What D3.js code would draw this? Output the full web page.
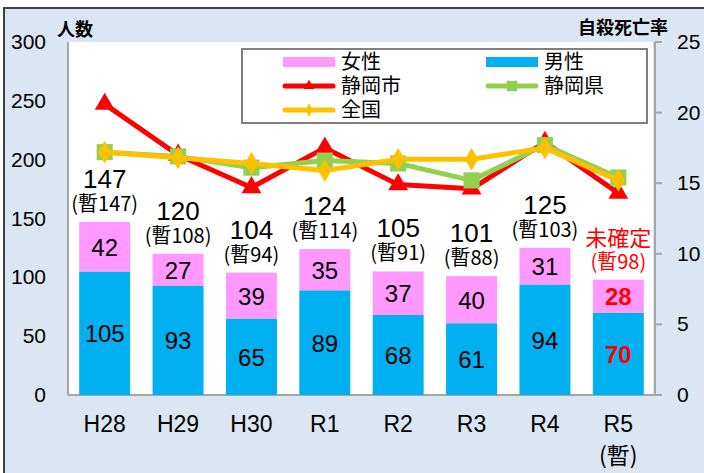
<!doctype html>
<html lang="ja">
<head>
<meta charset="utf-8">
<title>自殺者数と自殺死亡率</title>
<style>
  body { margin: 0; background: #ffffff; }
  text { font-family: "Liberation Sans", Arial, "Noto Sans CJK JP", sans-serif; }
  .jp { font-family: "Noto Sans CJK JP", sans-serif; }
</style>
</head>
<body>
<script src="https://d3js.org/d3.v7.min.js"></script>
<script>
// data
var years = ["H28", "H29", "H30", "R1", "R2", "R3", "R4", "R5"];
var male = [105, 93, 65, 89, 68, 61, 94, 70];
var female = [42, 27, 39, 35, 37, 40, 31, 28];
var totals = [147, 120, 104, 124, 105, 101, 125, 98];
var provisional = [147, 108, 94, 114, 91, 88, 103, 98];
var cityRate = [20.6, 17.0, 14.7, 17.5, 14.9, 14.6, 17.9, 14.3];
var prefRate = [17.2, 16.9, 16.1, 16.6, 16.4, 15.2, 17.7, 15.4];
var nationRate = [17.2, 16.8, 16.4, 15.9, 16.7, 16.7, 17.5, 15.2];
var leftTicks = [0, 50, 100, 150, 200, 250, 300];
var rightTicks = [0, 5, 10, 15, 20, 25];

var w = 704, h = 473;
var svg = d3.select("body").append("svg")
  .attr("width", w).attr("height", h);

// outer frame
svg.append("rect")
  .attr("x", 4).attr("y", 8).attr("width", w + 10).attr("height", h + 10)
  .attr("fill", "#dce6f2").attr("stroke", "#404040").attr("stroke-width", 2);

var plotL = 68, plotR = 655, plotT = 42, plotB = 395;

svg.append("rect")
  .attr("x", plotL).attr("y", plotT).attr("width", plotR - plotL - 2).attr("height", plotB - plotT)
  .attr("fill", "#ffffff");

var x = d3.scaleBand().domain(years).range([plotL, plotR])
  .paddingInner(0.305).paddingOuter(0.1525);
var y = d3.scaleLinear().domain([0, 300]).range([plotB, plotT]);
var y2 = d3.scaleLinear().domain([0, 25]).range([plotB, plotT]);

// axes
var axisColor = "#a6a6a6";
svg.append("line").attr("x1", plotL).attr("x2", plotL).attr("y1", plotT).attr("y2", plotB)
  .attr("stroke", axisColor).attr("stroke-width", 2);
svg.append("line").attr("x1", plotL).attr("x2", plotR + 7).attr("y1", plotB).attr("y2", plotB)
  .attr("stroke", axisColor).attr("stroke-width", 2);
svg.append("line").attr("x1", plotR).attr("x2", plotR).attr("y1", plotT).attr("y2", plotB)
  .attr("stroke", axisColor).attr("stroke-width", 2);

svg.selectAll(".rtick").data(rightTicks).enter().append("line")
  .attr("x1", plotR).attr("x2", plotR + 7)
  .attr("y1", function(d) { return y2(d); }).attr("y2", function(d) { return y2(d); })
  .attr("stroke", axisColor).attr("stroke-width", 2);

svg.selectAll(".llab").data(leftTicks).enter().append("text")
  .attr("x", 46).attr("y", function(d) { return y(d) + 7; })
  .attr("text-anchor", "end").attr("font-size", 21).attr("fill", "#000")
  .text(function(d) { return d; });

svg.selectAll(".rlab").data(rightTicks).enter().append("text")
  .attr("x", 677).attr("y", function(d) { return y2(d) + 7; })
  .attr("font-size", 21).attr("fill", "#000")
  .text(function(d) { return d; });

svg.selectAll(".xlab").data(years).enter().append("text")
  .attr("x", function(d) { return x(d) + x.bandwidth() / 2; })
  .attr("y", 432).attr("text-anchor", "middle").attr("font-size", 23)
  .text(function(d) { return d; });
svg.append("text").attr("class", "jp")
  .attr("x", x("R5") + x.bandwidth() / 2).attr("y", 464)
  .attr("text-anchor", "middle").attr("font-size", 23)
  .text("(暫)");

svg.append("text").attr("class", "jp").attr("x", 57).attr("y", 36)
  .attr("font-size", 18).attr("font-weight", "bold").text("人数");
svg.append("text").attr("class", "jp").attr("x", 578).attr("y", 34)
  .attr("font-size", 18).attr("font-weight", "bold").text("自殺死亡率");

// bars
var bars = svg.append("g");
years.forEach(function(yr, i) {
  var bx = x(yr), bw = x.bandwidth();
  var last = i === years.length - 1;
  bars.append("rect").attr("x", bx).attr("width", bw)
    .attr("y", y(male[i])).attr("height", y(0) - y(male[i]))
    .attr("fill", "#00b0f0");
  bars.append("rect").attr("x", bx).attr("width", bw)
    .attr("y", y(male[i] + female[i])).attr("height", y(male[i]) - y(male[i] + female[i]))
    .attr("fill", "#ff99ff");
  var cx = bx + bw / 2;
  bars.append("text").attr("x", cx).attr("y", (y(0) + y(male[i])) / 2 + 9)
    .attr("text-anchor", "middle").attr("font-size", 24)
    .attr("font-weight", last ? "bold" : "normal")
    .attr("fill", last ? "#ff0000" : "#000")
    .text(male[i]);
  bars.append("text").attr("x", cx).attr("y", (y(male[i]) + y(male[i] + female[i])) / 2 + 9)
    .attr("text-anchor", "middle").attr("font-size", 24)
    .attr("font-weight", last ? "bold" : "normal")
    .attr("fill", last ? "#ff0000" : "#000")
    .text(female[i]);
  var topY = y(male[i] + female[i]);
  if (last) {
    bars.append("text").attr("class", "jp").attr("x", cx).attr("y", topY - 34)
      .attr("text-anchor", "middle").attr("font-size", 22).attr("fill", "#ff0000")
      .text("未確定");
  } else {
    bars.append("text").attr("x", cx).attr("y", topY - 34)
      .attr("text-anchor", "middle").attr("font-size", 26).attr("fill", "#000")
      .text(totals[i]);
  }
  bars.append("text").attr("class", "jp").attr("x", cx).attr("y", topY - 11)
    .attr("text-anchor", "middle").attr("font-size", 20)
    .attr("fill", last ? "#ff0000" : "#000")
    .text("(暫" + provisional[i] + ")");
});

// lines
var series = [
  { name: "静岡市", values: cityRate, color: "#ff0000", marker: d3.symbolTriangle, size: 170 },
  { name: "静岡県", values: prefRate, color: "#92d050", marker: d3.symbolSquare, size: 260 },
  { name: "全国", values: nationRate, color: "#ffc000", marker: d3.symbolDiamond, size: 150 }
];
var line = d3.line()
  .x(function(d, i) { return x(years[i]) + x.bandwidth() / 2; })
  .y(function(d) { return y2(d); });

series.forEach(function(s) {
  var g = svg.append("g");
  g.append("path").attr("d", line(s.values)).attr("fill", "none")
    .attr("stroke", s.color).attr("stroke-width", 5).attr("stroke-linejoin", "round");
  g.selectAll("path.m").data(s.values).enter().append("path")
    .attr("transform", function(d, i) {
      return "translate(" + (x(years[i]) + x.bandwidth() / 2) + "," + y2(d) + ")";
    })
    .attr("d", d3.symbol().type(s.marker).size(s.size))
    .attr("fill", s.color);
});

// legend
var lg = svg.append("g");
lg.append("rect").attr("x", 242).attr("y", 49).attr("width", 405).attr("height", 74)
  .attr("fill", "#fff").attr("stroke", "#808080").attr("stroke-width", 2);
var legendItems = [
  { name: "女性", color: "#ff99ff", kind: "box", col: 0, row: 0 },
  { name: "男性", color: "#00b0f0", kind: "box", col: 1, row: 0 },
  { name: "静岡市", color: "#ff0000", kind: "line", marker: d3.symbolTriangle, col: 0, row: 1 },
  { name: "静岡県", color: "#92d050", kind: "line", marker: d3.symbolSquare, col: 1, row: 1 },
  { name: "全国", color: "#ffc000", kind: "line", marker: d3.symbolDiamond, col: 0, row: 2 }
];
legendItems.forEach(function(it) {
  var lx = 283 + it.col * 203, ly = 62 + it.row * 24;
  if (it.kind === "box") {
    lg.append("rect").attr("x", lx).attr("y", ly - 5).attr("width", 52).attr("height", 10)
      .attr("fill", it.color);
  } else {
    lg.append("line").attr("x1", lx + 2).attr("x2", lx + 50).attr("y1", ly).attr("y2", ly)
      .attr("stroke", it.color).attr("stroke-width", 5).attr("stroke-linecap", "round");
    lg.append("path").attr("transform", "translate(" + (lx + 26) + "," + ly + ")")
      .attr("d", d3.symbol().type(it.marker).size(it.marker === d3.symbolSquare ? 110 : 50))
      .attr("fill", it.color);
  }
  lg.append("text").attr("class", "jp").attr("x", lx + 58).attr("y", ly + 7)
    .attr("font-size", 20).text(it.name);
});
</script>
</body>
</html>
